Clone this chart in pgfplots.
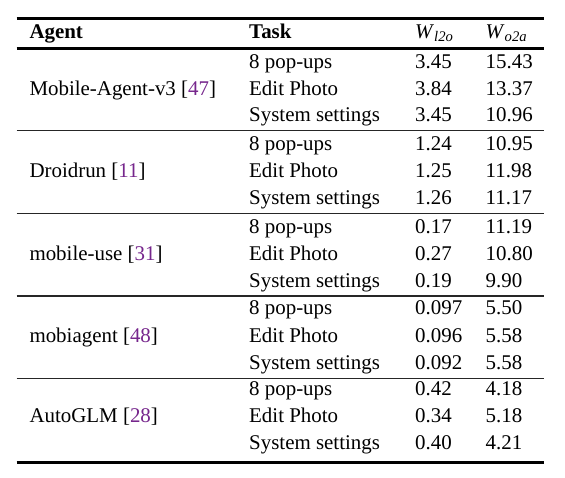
\documentclass[border=0pt]{standalone}
\usepackage{fontspec}
\setmainfont{Liberation Serif}
\usepackage{pgfplots}
\usepackage{pgfplotstable}
\pgfplotsset{compat=1.18}
\definecolor{citepurple}{RGB}{118,38,140}
\newcommand{\tf}{\fontsize{21}{25}\selectfont}

\pgfplotstableread[col sep=comma]{
y,task,l2o,o2a
68.3,8 pop-ups,3.45,15.43
95.0,Edit Photo,3.84,13.37
121.7,System settings,3.45,10.96
150.7,8 pop-ups,1.24,10.95
177.5,Edit Photo,1.25,11.98
204.0,System settings,1.26,11.17
233.5,8 pop-ups,0.17,11.19
260.3,Edit Photo,0.27,10.80
287.0,System settings,0.19,9.90
314.5,8 pop-ups,0.097,5.50
342.0,Edit Photo,0.096,5.58
369.0,System settings,0.092,5.58
395.8,8 pop-ups,0.42,4.18
422.6,Edit Photo,0.34,5.18
449.3,System settings,0.40,4.21
}\datatable

\begin{document}
\begin{tikzpicture}
\begin{axis}[
  scale only axis, width=565bp, height=478bp,
  xmin=0, xmax=565, ymin=0, ymax=478, y dir=reverse,
  hide axis, clip=false,
  every node near coord/.append style={anchor=base west, inner sep=0pt, font=\tf, text=black},
]
\path (axis cs:0,0) rectangle (axis cs:565,478);
% rules
\draw[line width=2.7bp] (axis cs:16.7,18.7) -- (axis cs:544,18.7);
\draw[line width=2.5bp] (axis cs:16.7,48.6) -- (axis cs:544,48.6);
\draw[line width=1.3bp, black!85] (axis cs:16.7,130.3) -- (axis cs:544,130.3);
\draw[line width=1.3bp, black!85] (axis cs:16.7,213.3) -- (axis cs:544,213.3);
\draw[line width=1.3bp, black!85] (axis cs:16.7,296.0) -- (axis cs:544,296.0);
\draw[line width=1.3bp, black!85] (axis cs:16.7,378.3) -- (axis cs:544,378.3);
\draw[line width=2.7bp] (axis cs:16.7,462.8) -- (axis cs:544,462.8);
% header
\node[anchor=base west, inner sep=0pt, font=\tf\bfseries] at (axis cs:29.3,38.3) {Agent};
\node[anchor=base west, inner sep=0pt, font=\tf\bfseries] at (axis cs:249,38.3) {Task};
\node[anchor=base west, inner sep=0pt, font=\tf] at (axis cs:415,38.3) {\textit{W}\textsubscript{\textit{l2o}}};
\node[anchor=base west, inner sep=0pt, font=\tf] at (axis cs:485.5,38.3) {\textit{W}\textsubscript{\textit{o2a}}};
% agents
\node[anchor=base west, inner sep=0pt, font=\tf] at (axis cs:29.3,95.0) {Mobile-Agent-v3 [\textcolor{citepurple}{47}]};
\node[anchor=base west, inner sep=0pt, font=\tf] at (axis cs:29.3,177.5) {Droidrun [\textcolor{citepurple}{11}]};
\node[anchor=base west, inner sep=0pt, font=\tf] at (axis cs:29.3,260.3) {mobile-use [\textcolor{citepurple}{31}]};
\node[anchor=base west, inner sep=0pt, font=\tf] at (axis cs:29.3,342.0) {mobiagent [\textcolor{citepurple}{48}]};
\node[anchor=base west, inner sep=0pt, font=\tf] at (axis cs:29.3,422.6) {AutoGLM [\textcolor{citepurple}{28}]};
% columns
\addplot[draw=none, mark=none, nodes near coords, point meta=explicit symbolic]
  table[x expr=249, y=y, meta=task] {\datatable};
\addplot[draw=none, mark=none, nodes near coords, point meta=explicit symbolic]
  table[x expr=415, y=y, meta=l2o] {\datatable};
\addplot[draw=none, mark=none, nodes near coords, point meta=explicit symbolic]
  table[x expr=485.5, y=y, meta=o2a] {\datatable};
\end{axis}
\end{tikzpicture}
\end{document}
